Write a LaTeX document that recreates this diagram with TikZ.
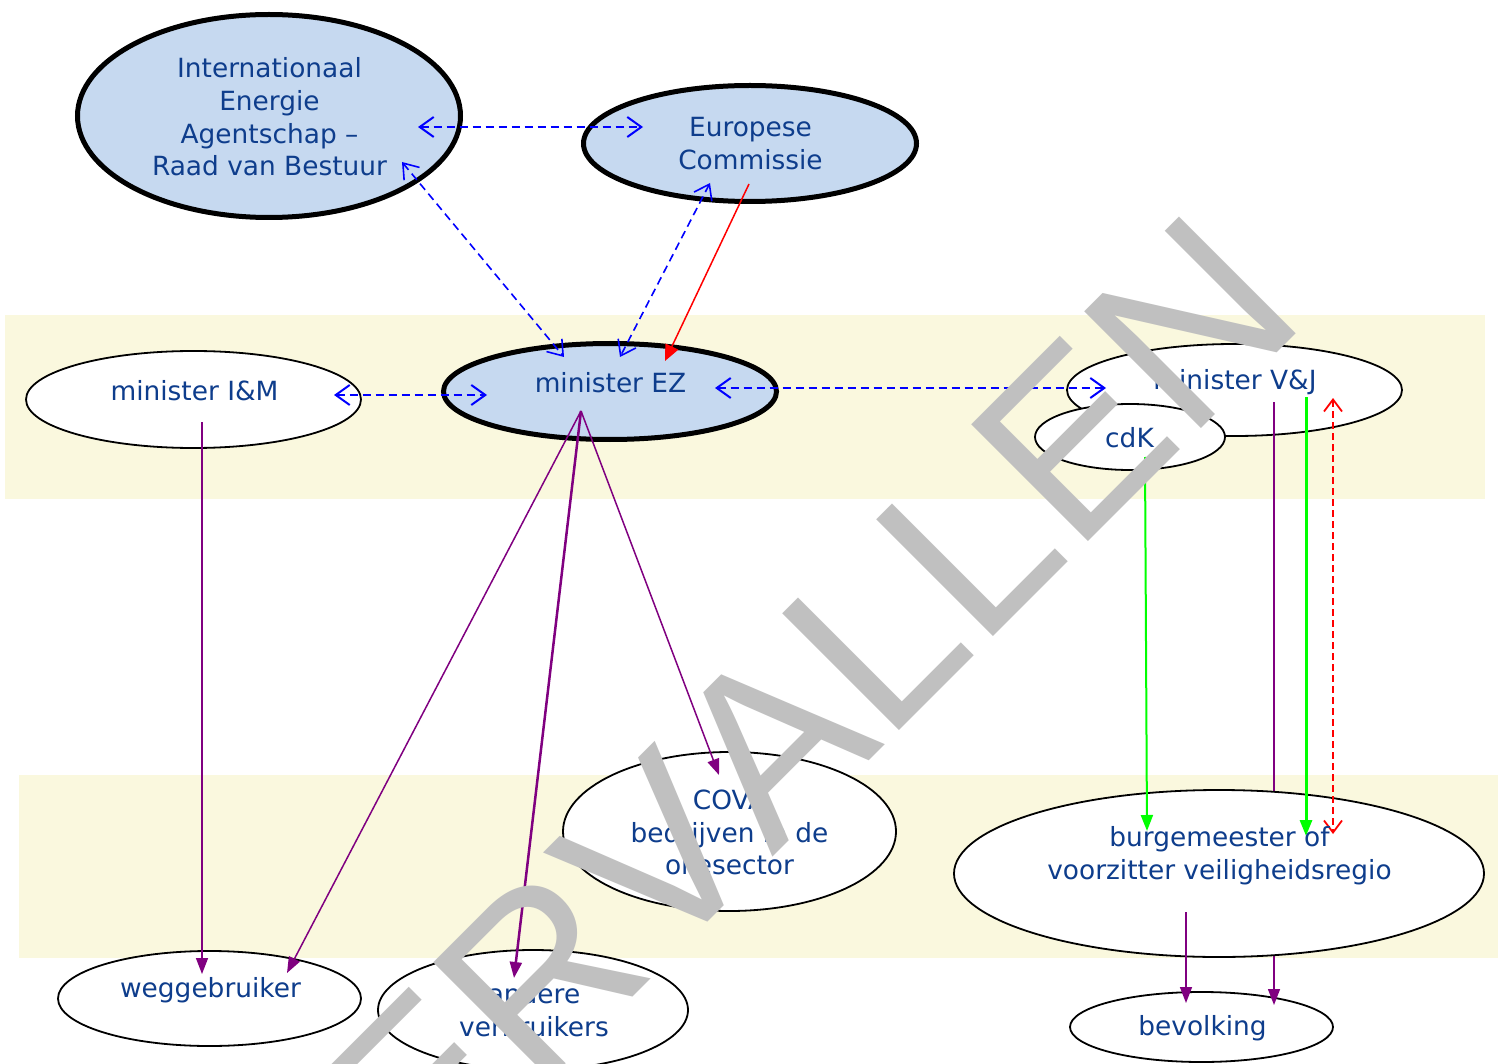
\documentclass[tikz,border=0pt]{standalone}
\usepackage{fontspec}
\setmainfont{DejaVu Sans}
\newfontfamily\wmfont[Kerning=Off]{Liberation Sans}
\usetikzlibrary{shapes.geometric,arrows.meta}
\definecolor{txtblue}{RGB}{14,61,140}
\definecolor{fillblue}{RGB}{198,217,240}
\definecolor{bandcol}{RGB}{250,248,222}
\definecolor{dblue}{RGB}{0,0,255}
\definecolor{purp}{RGB}{128,0,128}
\definecolor{grn}{RGB}{0,255,0}
\definecolor{rd}{RGB}{255,0,0}
\definecolor{wmgrey}{RGB}{192,192,192}
\begin{document}
\begin{tikzpicture}[x=1pt,y=-1pt,
  ellthin/.style={ellipse, draw=black, line width=1.8pt, fill=white, inner sep=0pt},
  ellthick/.style={ellipse, draw=black, line width=5pt, fill=fillblue, inner sep=0pt},
  lbl/.style={text=txtblue, font=\fontsize{26.4}{32.7}\selectfont, align=center, inner sep=0pt},
  openarr/.style={{Straight Barb[length=14pt,width=20pt]}-{Straight Barb[length=14pt,width=20pt]}},
  bdash/.style={draw=dblue, line width=2pt, dash pattern=on 8pt off 5pt, openarr},
  bdashthin/.style={draw=dblue, line width=1.6pt, dash pattern=on 8pt off 5pt, openarr},
  rdash/.style={draw=rd, line width=1.8pt, dash pattern=on 7pt off 4pt, {Straight Barb[length=12pt,width=18pt]}-{Straight Barb[length=12pt,width=18pt]}},
  filltip/.style={-{Triangle[length=16pt,width=12pt]}},
  purpthin/.style={draw=purp, line width=1.5pt, filltip},
  purpthick/.style={draw=purp, line width=2.5pt, filltip},
  wmark/.style={text=wmgrey, font=\wmfont\fontsize{240}{240}\selectfont, inner sep=0pt, rotate=45, anchor=base west}
]
\useasboundingbox (0,0) rectangle (1507,1064);
\clip (0,0) rectangle (1507,1064);
\fill[white] (0,0) rectangle (1507,1064);
% bands
\fill[bandcol] (5,315) rectangle (1485,499);
\fill[bandcol] (19,775) rectangle (1498,958);

% ellipses
\node[ellthick, minimum width=383pt, minimum height=203pt] (iea) at (269,116) {};
\node[ellthick, minimum width=333pt, minimum height=116pt] (ec) at (750,143.5) {};
\node[ellthick, minimum width=333pt, minimum height=96pt] (ez) at (610,391.5) {};
\node[ellthin, minimum width=335pt, minimum height=97pt] (im) at (193.5,399.5) {};
\node[ellthin, minimum width=335pt, minimum height=92pt] (vj) at (1234.5,390) {};
\node[ellthin, minimum width=190pt, minimum height=66pt] (cdk) at (1130,437) {};
\node[ellthin, minimum width=333pt, minimum height=159pt] (cova) at (729.5,831.5) {};
\node[ellthin, minimum width=303pt, minimum height=95pt] (wegg) at (209.5,998.5) {};
\node[ellthin, minimum width=310pt, minimum height=120pt] (andere) at (533,1010) {};
\node[ellthin, minimum width=263pt, minimum height=70pt] (bev) at (1201.5,1027) {};

% connector end points
\coordinate (ieaR) at (418,127);
\coordinate (ecL) at (643,127);
\coordinate (ieaD) at (402,162);
\coordinate (ezA) at (564,357);
\coordinate (ecD) at (710,183);
\coordinate (ezB) at (620,357);
\coordinate (ecR) at (749,184);
\coordinate (ezC) at (665,361);
\coordinate (imR) at (334,395);
\coordinate (ezL) at (487,395);
\coordinate (ezR) at (715,388);
\coordinate (vjL) at (1106,388);
\coordinate (ezO) at (581,411);
\coordinate (weggA) at (287,973);
\coordinate (andereA) at (514,978);
\coordinate (covaA) at (719,775);
\coordinate (imO) at (202,422);
\coordinate (weggB) at (202,974);
\coordinate (cdkO) at (1145,457);
\coordinate (burgA) at (1147,831);
\coordinate (vjP) at (1274,402);
\coordinate (bevA) at (1274,1005);
\coordinate (vjG) at (1306,397);
\coordinate (burgB) at (1306,836);
\coordinate (vjR) at (1333,398);
\coordinate (burgC) at (1333,834);
\coordinate (burgO) at (1186,912);
\coordinate (bevB) at (1186,1003);

% purple line from V&J down to bevolking (behind burgemeester)
\draw[purpthin] (vjP) -- (bevA);
\node[ellthin, minimum width=530pt, minimum height=167pt] (burg) at (1219,873.5) {};

% connectors
\draw[bdash] (ieaR) -- (ecL);
\draw[bdashthin] (ieaD) -- (ezA);
\draw[bdashthin] (ecD) -- (ezB);
\draw[draw=rd, line width=1.5pt, -{Triangle[length=16pt,width=14pt]}] (ecR) -- (ezC);
\draw[bdash] (imR) -- (ezL);
\draw[bdash] (ezR) -- (vjL);
\draw[purpthin] (ezO) -- (weggA);
\draw[purpthick] (ezO) -- (andereA);
\draw[purpthin] (ezO) -- (covaA);
\draw[purpthin] (imO) -- (weggB);
\draw[draw=grn, line width=2pt, filltip] (cdkO) -- (burgA);
\draw[draw=grn, line width=3pt, filltip] (vjG) -- (burgB);
\draw[rdash] (vjR) -- (burgC);
\draw[purpthin] (burgO) -- (bevB);

% labels
\node[lbl] (ieat) at (269.5,117) {Internationaal\\Energie\\Agentschap –\\Raad van Bestuur};
\node[lbl] (ect) at (750.5,143.5) {Europese\\Commissie};
\node[lbl] (ezt) at (610.5,383) {minister EZ};
\node[lbl] (imt) at (194.5,391) {minister I\&M};
\node[lbl] (vjt) at (1235,382) {minister V\&J};
\node[lbl] (cdkt) at (1129.5,438) {cdK};
\node[lbl] (covat) at (729.5,832.5) {COVA\\bedrijven in de\\oliesector};
\node[lbl] (burgt) at (1219.5,855.5) {burgemeester of\\voorzitter veiligheidsregio};
\node[lbl] (weggt) at (210.5,990) {weggebruiker};
\node[lbl] (anderet) at (534,1010) {andere\\verbruikers};
\node[lbl] (bevt) at (1202.5,1028) {bevolking};

% watermark
\node[wmark] (wm) at (310,1320) {VERVALLEN};
\end{tikzpicture}
\end{document}
